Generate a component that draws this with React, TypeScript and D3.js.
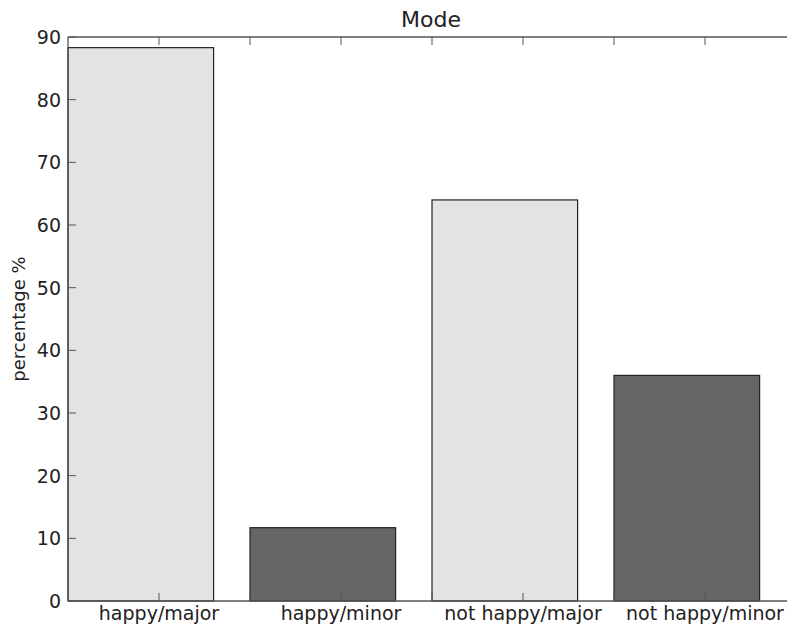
import { useRef, useEffect } from 'react'
import * as d3 from 'd3'

const categories = ['happy/major', 'happy/minor', 'not happy/major', 'not happy/minor']
const percentages = [88.3, 11.7, 64.0, 36.0]
const barColors = ['#e3e3e3', '#666666', '#e3e3e3', '#666666']
const yTicks = [0, 10, 20, 30, 40, 50, 60, 70, 80, 90]
const xTickPositions = [0.5, 1, 1.5, 2, 2.5, 3, 3.5]

const App = () => {
	const svgRef = useRef<SVGSVGElement | null>(null)

	useEffect(() => {
		if (!svgRef.current) return

		const width = 787
		const height = 625
		const margin = { top: 37, left: 68 }
		const plotBottom = 601
		const plotRight = 796 // x=4 falls just past the picture's right edge

		const svg = d3.select(svgRef.current)
		svg.selectAll('*').remove()
		svg.attr('width', width).attr('height', height)

		const x = d3.scaleLinear().domain([0, 4]).range([margin.left, plotRight])
		const y = d3.scaleLinear().domain([0, 90]).range([plotBottom, margin.top])

		const font = 'DejaVu Sans, sans-serif'

		// bars
		svg
			.append('g')
			.selectAll('rect')
			.data(percentages)
			.enter()
			.append('rect')
			.attr('x', (_, i) => x(i))
			.attr('y', (d) => y(d))
			.attr('width', x(0.8) - x(0))
			.attr('height', (d) => y(0) - y(d))
			.attr('fill', (_, i) => barColors[i])
			.attr('stroke', '#222')
			.attr('stroke-width', 1.2)

		// frame: left, top, bottom (right side is off the picture)
		const frame = svg.append('g').attr('stroke', '#555').attr('stroke-width', 1.3)
		frame.append('line').attr('x1', margin.left).attr('x2', margin.left).attr('y1', margin.top).attr('y2', plotBottom)
		frame.append('line').attr('x1', margin.left).attr('x2', width).attr('y1', margin.top).attr('y2', margin.top)
		frame.append('line').attr('x1', margin.left).attr('x2', width).attr('y1', plotBottom).attr('y2', plotBottom)

		// y ticks (inward)
		const yg = svg.append('g')
		yTicks.forEach((t) => {
			yg.append('line')
				.attr('x1', margin.left)
				.attr('x2', margin.left + 8)
				.attr('y1', y(t))
				.attr('y2', y(t))
				.attr('stroke', '#555')
			yg.append('text')
				.attr('x', margin.left - 7)
				.attr('y', y(t))
				.attr('dy', '0.36em')
				.attr('text-anchor', 'end')
				.attr('font-family', font)
				.attr('font-size', 19)
				.attr('fill', '#222')
				.text(t)
		})

		// x ticks (inward, top and bottom)
		const xg = svg.append('g')
		xTickPositions.forEach((t) => {
			xg.append('line')
				.attr('x1', x(t))
				.attr('x2', x(t))
				.attr('y1', plotBottom)
				.attr('y2', plotBottom - 8)
				.attr('stroke', '#555')
			xg.append('line')
				.attr('x1', x(t))
				.attr('x2', x(t))
				.attr('y1', margin.top)
				.attr('y2', margin.top + 8)
				.attr('stroke', '#555')
		})
		categories.forEach((c, i) => {
			xg.append('text')
				.attr('x', x(i + 0.5))
				.attr('y', 620)
				.attr('text-anchor', 'middle')
				.attr('font-family', font)
				.attr('font-size', 19)
				.attr('fill', '#222')
				.text(c)
		})

		// title
		svg
			.append('text')
			.attr('x', 431)
			.attr('y', 27)
			.attr('text-anchor', 'middle')
			.attr('font-family', font)
			.attr('font-size', 22)
			.attr('fill', '#222')
			.text('Mode')

		// y label
		svg
			.append('text')
			.attr('transform', `translate(25,${(margin.top + plotBottom) / 2}) rotate(-90)`)
			.attr('text-anchor', 'middle')
			.attr('font-family', font)
			.attr('font-size', 18)
			.attr('fill', '#222')
			.text('percentage %')
	}, [])

	return (
		<svg
			ref={svgRef}
			style={{ position: 'absolute', left: 0, top: 0, background: '#fff', overflow: 'hidden' }}
		></svg>
	)
}

export default App
